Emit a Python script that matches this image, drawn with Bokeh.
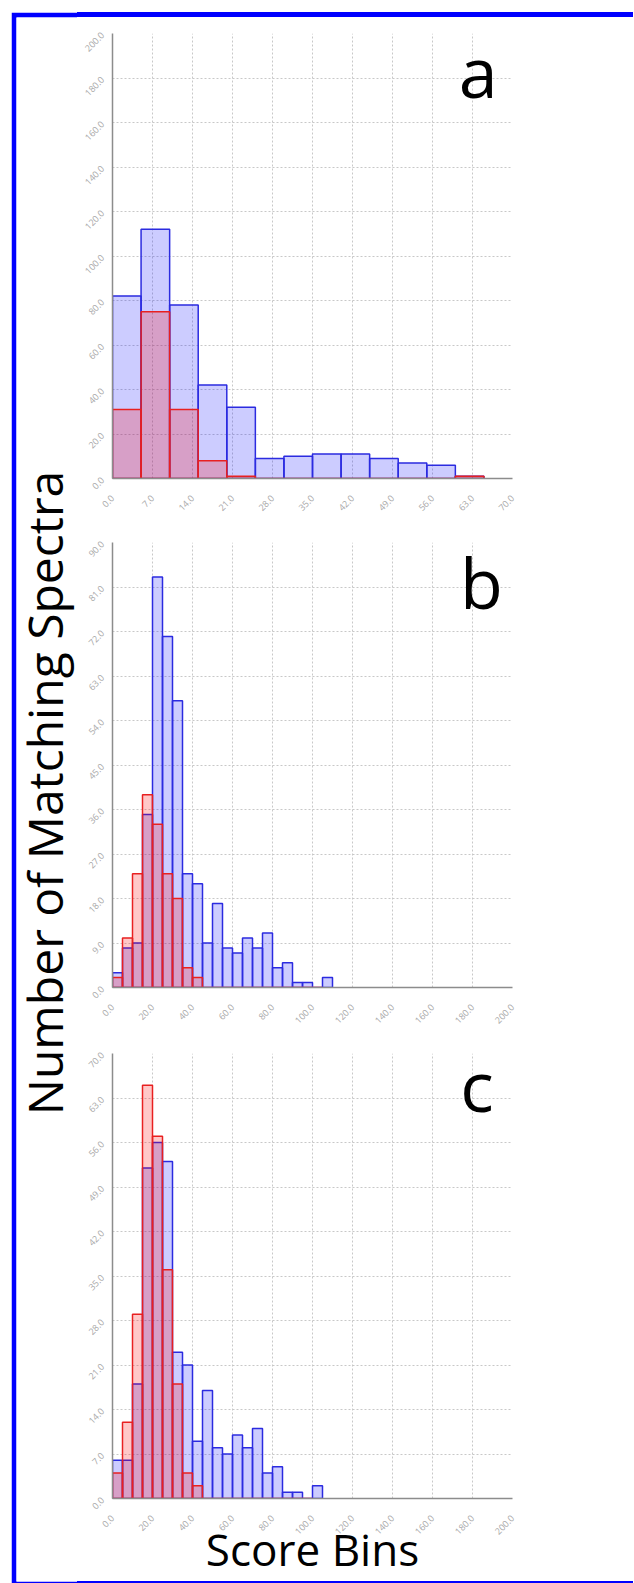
from math import pi
from bokeh.plotting import figure
from bokeh.layouts import row, column
from bokeh.models import Range1d, FixedTicker, NumeralTickFormatter, Label, Spacer, Div
from bokeh.embed import file_html
from bokeh.resources import INLINE

# ---------------- data ----------------
bin_width = 5

# panel a
a_blue = [82, 112, 78, 42, 32, 9, 10, 11, 11, 9, 7, 6, 1]
a_red = [31, 75, 31, 8, 1, 0, 0, 0, 0, 0, 0, 0, 1]
a_xticks = [0, 7, 14, 21, 28, 35, 42, 49, 56, 63, 70]
a_yticks = [0, 20, 40, 60, 80, 100, 120, 140, 160, 180, 200]

# panel b
b_blue = [3, 8, 9, 35, 83, 71, 58, 23, 21, 9, 17, 8, 7, 10, 8, 11, 4, 5, 1, 1, 0, 2]
b_red = [2, 10, 23, 39, 33, 23, 18, 4, 2, 0, 0, 0, 0, 0, 0, 0, 0, 0, 0, 0, 0]
b_xticks = [0, 20, 40, 60, 80, 100, 120, 140, 160, 180, 200]
b_yticks = [0, 9, 18, 27, 36, 45, 54, 63, 72, 81, 90]

# panel c
c_blue = [6, 6, 18, 52, 56, 53, 23, 21, 9, 17, 8, 7, 10, 8, 11, 4, 5, 1, 1, 0, 2]
c_red = [4, 12, 29, 65, 57, 36, 18, 4, 2, 0, 0, 0, 0, 0, 0, 0, 0, 0, 0, 0]
c_xticks = [0, 20, 40, 60, 80, 100, 120, 140, 160, 180, 200]
c_yticks = [0, 7, 14, 21, 28, 35, 42, 49, 56, 63, 70]

FONT = "Open Sans"
FRAME_BLUE = "#0000ff"
PANEL_W = 557


def panel(blue, red, xticks, yticks, letter, letter_xy, height, top, bottom):
    p = figure(width=PANEL_W, height=height,
               x_range=Range1d(xticks[0], xticks[-1]),
               y_range=Range1d(yticks[0], yticks[-1]),
               toolbar_location=None, output_backend="svg",
               min_border_left=35, min_border_right=122,
               min_border_top=top, min_border_bottom=bottom)
    p.outline_line_color = None
    p.background_fill_color = "white"
    p.border_fill_color = "white"

    bl = [i * bin_width for i in range(len(blue))]
    p.quad(left=bl, right=[v + bin_width for v in bl], bottom=0, top=blue,
           fill_color="blue", fill_alpha=0.2,
           line_color="#2b2be0", line_width=1.5)
    rl = [i * bin_width for i in range(len(red))]
    p.quad(left=rl, right=[v + bin_width for v in rl], bottom=0, top=red,
           fill_color="red", fill_alpha=0.22,
           line_color="#e82020", line_width=1.5)

    p.xaxis.ticker = FixedTicker(ticks=xticks)
    p.yaxis.ticker = FixedTicker(ticks=yticks)
    for ax in (p.xaxis, p.yaxis):
        ax.formatter = NumeralTickFormatter(format="0.0")
        ax.major_label_orientation = pi / 4
        ax.major_tick_line_color = None
        ax.minor_tick_line_color = None
        ax.axis_line_color = "#8c8c8c"
        ax.axis_line_width = 1.5
        ax.major_label_text_color = "#a8a8a8"
        ax.major_label_text_font = FONT
        ax.major_label_text_font_size = "9px"
    p.xaxis.major_label_standoff = 12
    p.yaxis.major_label_standoff = 4

    p.grid.grid_line_color = "#c8c8c8"
    p.grid.grid_line_dash = "2 2"
    p.grid.grid_line_width = 1

    p.add_layout(Label(x=letter_xy[0], y=letter_xy[1], text=letter,
                       text_align="center", text_baseline="middle",
                       text_font=FONT, text_font_size="70px",
                       text_color="black"))
    return p


def strip(h):
    return Div(text="", width=PANEL_W - 1, height=h, margin=0,
               styles={"background-color": FRAME_BLUE})


fa = panel(a_blue, a_red, a_xticks, a_yticks, "a", (64.0, 183.0), 503, 16, 42)
fb = panel(b_blue, b_red, b_xticks, b_yticks, "b", (184.5, 82.0), 515, 22, 48)
fc = panel(c_blue, c_red, c_xticks, c_yticks, "c", (182.25, 65.0), 546, 18, 83)

fc.xaxis.axis_label = "Score Bins"
fc.xaxis.axis_label_text_font = FONT
fc.xaxis.axis_label_text_font_style = "normal"
fc.xaxis.axis_label_text_font_size = "44px"
fc.xaxis.axis_label_text_color = "black"
fc.xaxis.axis_label_standoff = -22

# left label column; its border area forms the left/top/bottom of the blue frame
lab = figure(width=66, height=1571, x_range=Range1d(0, 61), y_range=Range1d(0, 1564),
             min_border_left=5, min_border_top=5, min_border_bottom=2, min_border_right=0,
             x_axis_location=None, y_axis_location=None,
             toolbar_location=None, output_backend="svg")
lab.outline_line_color = None
lab.grid.visible = False
lab.background_fill_color = "white"
lab.border_fill_color = FRAME_BLUE
lab.add_layout(Label(x=28, y=788.5, text="Number of Matching Spectra", angle=pi / 2,
                     text_align="center", text_baseline="middle",
                     text_font=FONT, text_font_size="48px", text_color="black"))

layout = column(
    Spacer(width=634, height=12),
    row(Spacer(width=11, height=1571), lab,
        column(strip(5), fa, fb, fc, strip(2), spacing=0), spacing=0),
    spacing=0,
)

open("out.html", "w").write(file_html(layout, INLINE))
